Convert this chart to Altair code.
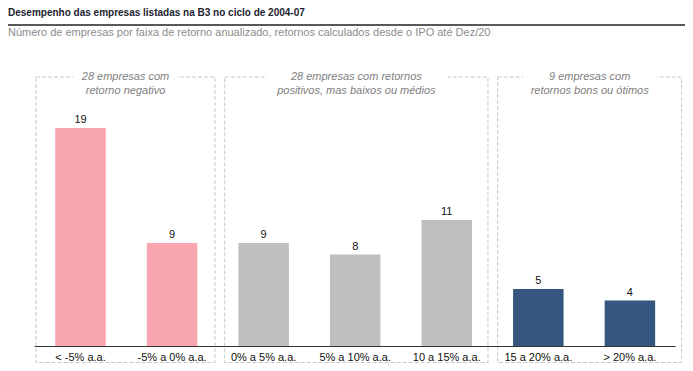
import altair as alt
import pandas as pd

# ---- data ----
categories = ["< -5% a.a.", "-5% a 0% a.a.", "0% a 5% a.a.", "5% a 10% a.a.",
              "10 a 15% a.a.", "15 a 20% a.a.", "> 20% a.a."]
values = [19, 9, 9, 8, 11, 5, 4]
groups = ["neg", "neg", "mid", "mid", "mid", "good", "good"]

group_ids = ["neg", "mid", "good"]
header_line1 = ["28 empresas com", "28 empresas com retornos", "9 empresas com"]
header_line2 = ["retorno negativo", "positivos, mas baixos ou médios", "retornos bons ou ótimos"]

title_text = "Desempenho das empresas listadas na B3 no ciclo de 2004-07"
subtitle_text = "Número de empresas por faixa de retorno anualizado, retornos calculados desde o IPO até Dez/20"

# ---- layout constants (category-index / value units) ----
box_left = [-0.486, 1.575, 4.556]
box_right = [1.469, 4.45, 6.565]
gap_left = [-0.082, 2.037, 4.834]
gap_right = [1.054, 4.013, 6.292]
box_top, box_bottom = 23.43, -1.39

colors = {"neg": "#F9A5AF", "mid": "#BFBFBF", "good": "#34567F"}
FONT = "Liberation Sans, Arial, sans-serif"

bars = pd.DataFrame({"idx": list(range(len(categories))), "cat": categories,
                     "val": values, "grp": groups})
boxes = pd.DataFrame({"grp": group_ids, "x1": box_left, "x2": box_right,
                      "g1": gap_left, "g2": gap_right,
                      "l1": header_line1, "l2": header_line2})
boxes["cx"] = (boxes["x1"] + boxes["x2"]) / 2

xs = alt.Scale(domain=[0, 6], range=[72.5, 621.9], nice=False, zero=False, padding=0)
ys = alt.Scale(domain=[0, 20], range=[338.5, 108.5], nice=False, zero=False, padding=0)

base_b = alt.Chart(boxes)
box = base_b.mark_rect(fillOpacity=0, stroke="#C8C8C8", strokeWidth=1,
                       strokeDash=[4, 2]).encode(
    x=alt.X("x1:Q", scale=xs, axis=None), x2="x2:Q",
    y=alt.Y("yb:Q", scale=ys, axis=None), y2="yt:Q"
).transform_calculate(yb=str(box_bottom), yt=str(box_top))

gap = base_b.mark_rect(fill="white").encode(
    x=alt.X("g1:Q", scale=xs, axis=None), x2="g2:Q",
    y=alt.Y("yb:Q", scale=ys, axis=None), y2="yt:Q"
).transform_calculate(yb=str(box_top - 0.25), yt=str(box_top + 0.25))

head1 = base_b.mark_text(font=FONT, fontSize=11, fontStyle="italic", color="#808080",
                         baseline="middle").encode(
    x=alt.X("cx:Q", scale=xs, axis=None),
    y=alt.Y("yy:Q", scale=ys, axis=None), text="l1:N"
).transform_calculate(yy="23.43")

head2 = base_b.mark_text(font=FONT, fontSize=11, fontStyle="italic", color="#808080",
                         baseline="middle").encode(
    x=alt.X("cx:Q", scale=xs, axis=None),
    y=alt.Y("yy:Q", scale=ys, axis=None), text="l2:N"
).transform_calculate(yy="22.2")

base = alt.Chart(bars)
bar = base.mark_bar(size=50.5).encode(
    x=alt.X("idx:Q", scale=xs, axis=None),
    y=alt.Y("val:Q", scale=ys, axis=None),
    y2=alt.datum(0),
    color=alt.Color("grp:N", scale=alt.Scale(domain=list(colors.keys()),
                                             range=list(colors.values())), legend=None)
)

vlab = base.mark_text(font=FONT, fontSize=11, color="#111111", baseline="alphabetic",
                      dy=-5).encode(
    x=alt.X("idx:Q", scale=xs, axis=None),
    y=alt.Y("val:Q", scale=ys, axis=None), text="val:Q"
)

clab = base.mark_text(font=FONT, fontSize=11, color="#111111", baseline="middle",
                      dy=11).encode(
    x=alt.X("idx:Q", scale=xs, axis=None),
    y=alt.Y("zero:Q", scale=ys, axis=None), text="cat:N"
).transform_calculate(zero="0")

axis_df = pd.DataFrame({"a": [-0.5], "b": [6.5], "z": [0]})
axis_line = alt.Chart(axis_df).mark_rule(color="#333333", strokeWidth=1.2).encode(
    x=alt.X("a:Q", scale=xs, axis=None), x2="b:Q",
    y=alt.Y("z:Q", scale=ys, axis=None)
)

hdr = pd.DataFrame({"t": [title_text], "s": [subtitle_text]})
title = alt.Chart(hdr).mark_text(font=FONT, fontSize=10, fontWeight="bold",
                                 color="#1d2330", align="left",
                                 baseline="alphabetic").encode(
    x=alt.value(0), y=alt.value(7.5), text="t:N")
subtitle = alt.Chart(hdr).mark_text(font=FONT, fontSize=11, color="#8c8c8c", align="left",
                                    baseline="alphabetic").encode(
    x=alt.value(0), y=alt.value(28), text="s:N")
title_rule = alt.Chart(hdr).mark_rule(color="#222222", strokeWidth=1.5).encode(
    x=alt.value(0), x2=alt.value(677), y=alt.value(17))

chart = alt.layer(box, gap, head1, head2, bar, vlab, clab, axis_line,
                  title, subtitle, title_rule).properties(
    width=677, height=355, padding=0, autosize=alt.AutoSizeParams(type="none")
).configure_view(stroke=None)

chart.save("out.html", embed_options={"renderer": "svg", "actions": False})
